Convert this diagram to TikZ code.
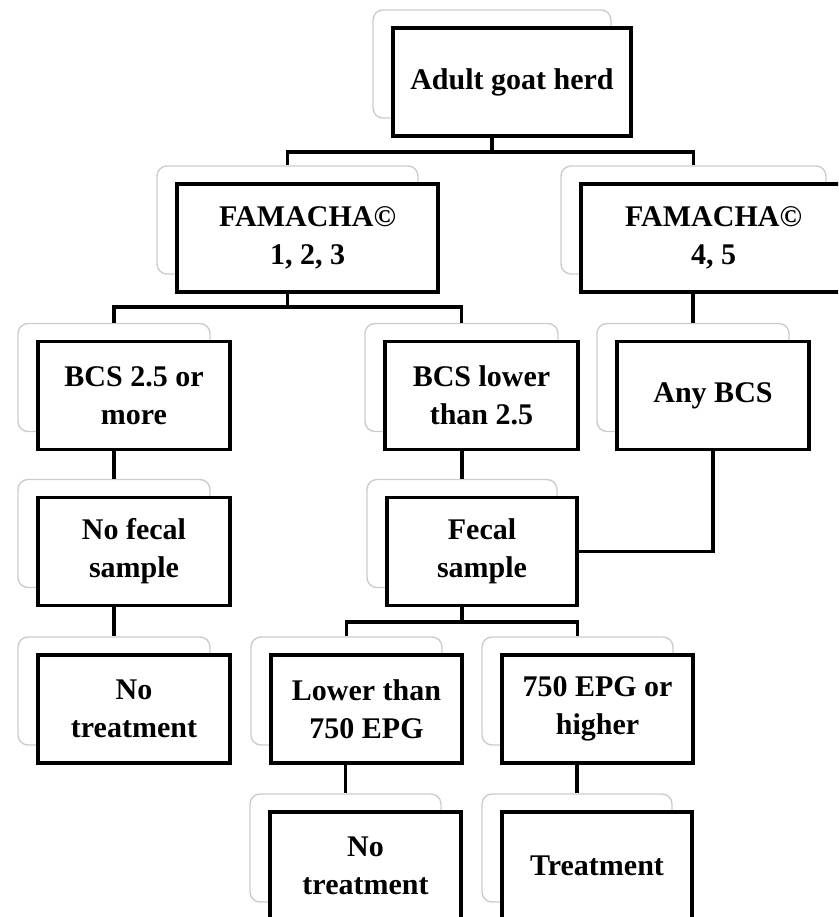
\documentclass[tikz,border=0pt]{standalone}
\usepackage{fontspec}
\setmainfont{Liberation Serif}
\usepackage{tikz}

\begin{document}
\begin{tikzpicture}[x=1pt, y=-1pt,
        card/.style={draw, line width=3.2pt, fill=white, align=center, inner sep=0pt,
            minimum height=108pt, font=\bfseries\fontsize{30}{38}\selectfont},
        back/.style={draw=black!20, line width=1.4pt, rounded corners=10pt, inner sep=0pt,
            minimum height=108pt},
        link/.style={line width=3.2pt}]
            \useasboundingbox (0,0) rectangle (838,917);
            \clip (0,0) rectangle (838,917);

            \def\dx{20}
            \def\dy{18}

            \foreach \name/\x/\y/\w in {root/512/82/238, famA/307.5/238/261, famB/713.5/238/265,
                    bcsA/134/395.5/192, bcsB/481.5/395.5/193, anyBcs/713/395.5/192,
                    noFecal/134/551.5/192, fecal/482/551.5/190,
                    noTreatA/134/709/192, lowEpg/366.5/709/191, highEpg/597.5/709/191,
                    noTreatB/365.5/866/191, treat/597/866/190}{
                \node[back, minimum width=\w pt] (\name-b) at (\x-\dx,\y-\dy) {};
            }

            \coordinate (j1) at (root-b.south |- 0,152);
            \coordinate (j2) at (famA-b.south |- 0,307);
            \coordinate (j3) at (fecal-b.south |- 0,622);

            \draw[link] (root-b.south) -- (j1);
            \draw[link] (famA-b.north) |- (j1) -| (famB-b.north);
            \draw[link] (famA-b.south) -- (j2);
            \draw[link] (bcsA-b.north) |- (j2) -| (bcsB-b.north);
            \draw[link] (anyBcs-b.north |- famB-b.south) -- (anyBcs-b.north);
            \draw[link] (noFecal-b.north |- bcsA-b.south) -- (noFecal-b.north);
            \draw[link] (fecal-b.north |- bcsB-b.south) -- (fecal-b.north);
            \draw[link] (noTreatA-b.north |- noFecal-b.south) -- (noTreatA-b.north);
            \draw[link] (fecal-b.south) -- (j3);
            \draw[link] (lowEpg-b.north) |- (j3) -| (highEpg-b.north);
            \draw[link] (noTreatB-b.north |- lowEpg-b.south) -- (noTreatB-b.north);
            \draw[link] (treat-b.north |- highEpg-b.south) -- (treat-b.north);

            \node[card, minimum width=238pt] (root) at (512,82) {Adult goat herd};
            \node[card, minimum width=261pt] (famA) at (307.5,238) {FAMACHA\textcopyright\\1, 2, 3};
            \node[card, minimum width=265pt] (famB) at (713.5,238) {FAMACHA\textcopyright\\4, 5};
            \node[card, minimum width=192pt] (bcsA) at (134,395.5) {BCS 2.5 or\\more};
            \node[card, minimum width=193pt] (bcsB) at (481.5,395.5) {BCS lower\\than 2.5};
            \node[card, minimum width=192pt] (anyBcs) at (713,395.5) {Any BCS};
            \node[card, minimum width=192pt] (noFecal) at (134,551.5) {No fecal\\sample};
            \node[card, minimum width=190pt] (fecal) at (482,551.5) {Fecal\\sample};
            \node[card, minimum width=192pt] (noTreatA) at (134,709) {No\\treatment};
            \node[card, minimum width=191pt] (lowEpg) at (366.5,709) {Lower than\\750 EPG};
            \node[card, minimum width=191pt] (highEpg) at (597.5,709) {750 EPG or\\higher};
            \node[card, minimum width=191pt] (noTreatB) at (365.5,866) {No\\treatment};
            \node[card, minimum width=190pt] (treat) at (597,866) {Treatment};

            \draw[link] (anyBcs.south) |- (fecal.east);

        \end{tikzpicture}
\end{document}
